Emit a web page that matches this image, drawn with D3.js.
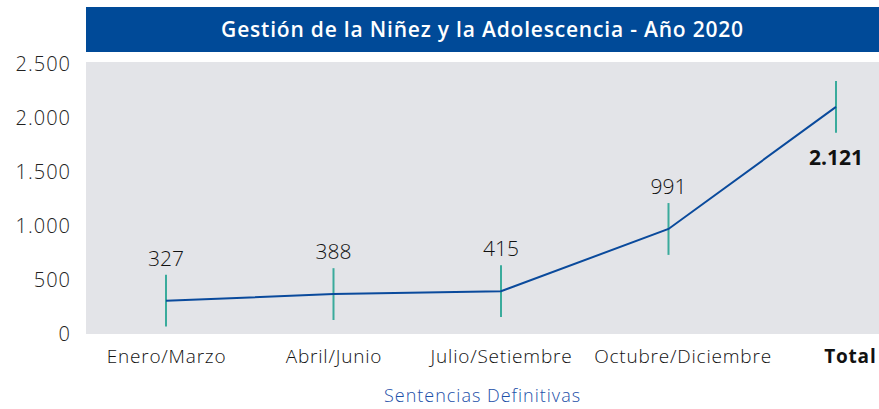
<!DOCTYPE html>
<html>
<head>
<meta charset="utf-8">
<script src="https://cdn.jsdelivr.net/npm/d3@7"></script>
<style>
  body { margin: 0; background: #fff; }
  text { font-family: "Open Sans", Lato, sans-serif; }
</style>
</head>
<body>
<script>
//chart data
var categories = ["Enero/Marzo", "Abril/Junio", "Julio/Setiembre", "Octubre/Diciembre", "Total"];
var values = [327, 388, 415, 991, 2121];
var errors = [240, 240, 240, 240, 240];
var yTicks = [0, 500, 1000, 1500, 2000, 2500];
var title = "Gestión de la Niñez y la Adolescencia - Año 2020";
var axisTitle = "Sentencias Definitivas";

window.onload = drawChart();

function drawChart(){

    var width = 879,
        height = 409;

    var svg = d3.select("body")
        .append("svg")
        .attr("width", width)
        .attr("height", height);

    //plot frame
    var plotLeft = 86, plotRight = 879, plotTop = 62, plotBottom = 334;

    var x = d3.scalePoint()
        .domain(categories)
        .range([166, 836]);

    var y = d3.scaleLinear()
        .domain([0, 2500])
        .range([336, 66]);

    var fmt = function(v){ return d3.format(",")(v).replace(/,/g, "."); };

    //title band
    svg.append("rect")
        .attr("x", plotLeft)
        .attr("y", 7)
        .attr("width", plotRight - plotLeft)
        .attr("height", 45)
        .attr("fill", "#004a98");

    svg.append("text")
        .attr("x", (plotLeft + plotRight) / 2)
        .attr("y", 37)
        .attr("text-anchor", "middle")
        .attr("fill", "#fff")
        .attr("font-size", 21)
        .attr("font-weight", 600)
        .attr("letter-spacing", 0.8)
        .text(title);

    //gray plot area
    svg.append("rect")
        .attr("x", plotLeft)
        .attr("y", plotTop)
        .attr("width", plotRight - plotLeft)
        .attr("height", plotBottom - plotTop)
        .attr("fill", "#e3e4e8");

    //y axis labels
    var yAxis = d3.axisLeft(y)
        .tickValues(yTicks)
        .tickSize(0)
        .tickPadding(0)
        .tickFormat(fmt);

    var gy = svg.append("g")
        .attr("transform", "translate(71,-2)")
        .call(yAxis);
    gy.select(".domain").remove();
    gy.selectAll("text")
        .attr("font-size", 20)
        .attr("fill", "#222")
        .attr("font-family", "'Open Sans', sans-serif")
        .attr("font-weight", 300)
        .attr("letter-spacing", 1);

    //x axis labels
    var xAxis = d3.axisBottom(x)
        .tickSize(0)
        .tickPadding(0);

    var gx = svg.append("g")
        .attr("transform", "translate(0,349)")
        .call(xAxis);
    gx.select(".domain").remove();
    gx.selectAll("text")
        .attr("font-size", 19)
        .attr("fill", "#111")
        .attr("font-family", "'Open Sans', sans-serif")
        .attr("letter-spacing", 0.8)
        .attr("font-weight", function(d){ return d === "Total" ? "bold" : 300; })
        .attr("text-anchor", function(d){ return d === "Total" ? "end" : "middle"; })
        .attr("dx", function(d){
            if (d === "Total") return 40;
            if (d === "Octubre/Diciembre") return 14;
            return 0;
        });

    //axis title
    svg.append("text")
        .attr("x", (plotLeft + plotRight) / 2)
        .attr("y", 402)
        .attr("text-anchor", "middle")
        .attr("fill", "#1c4fa8")
        .attr("font-size", 18)
        .attr("font-weight", 300)
        .attr("letter-spacing", 1)
        .text(axisTitle);

    var data = categories.map(function(c, i){
        return { cat: c, value: values[i], err: errors[i] };
    });

    //error bars
    svg.selectAll(".err")
        .data(data)
        .enter()
        .append("line")
        .attr("class", "err")
        .attr("x1", function(d){ return x(d.cat); })
        .attr("x2", function(d){ return x(d.cat); })
        .attr("y1", function(d){ return y(d.value + d.err); })
        .attr("y2", function(d){ return y(d.value - d.err); })
        .attr("stroke", "#3aab9c")
        .attr("stroke-width", 2);

    //line
    var line = d3.line()
        .x(function(d){ return x(d.cat); })
        .y(function(d){ return y(d.value); });

    svg.append("path")
        .datum(data)
        .attr("d", line)
        .attr("fill", "none")
        .attr("stroke", "#0a4a9c")
        .attr("stroke-width", 2);

    //value labels
    svg.selectAll(".lbl")
        .data(data)
        .enter()
        .append("text")
        .attr("class", "lbl")
        .attr("x", function(d){ return x(d.cat); })
        .attr("y", function(d, i){
            return i === data.length - 1 ? y(d.value - d.err) + 32 : y(d.value + d.err) - 9;
        })
        .attr("text-anchor", "middle")
        .attr("font-size", 21)
        .attr("fill", "#111")
        .attr("font-weight", function(d, i){ return i === data.length - 1 ? "bold" : 300; })
        .text(function(d){ return fmt(d.value); });
};
</script>
</body>
</html>
